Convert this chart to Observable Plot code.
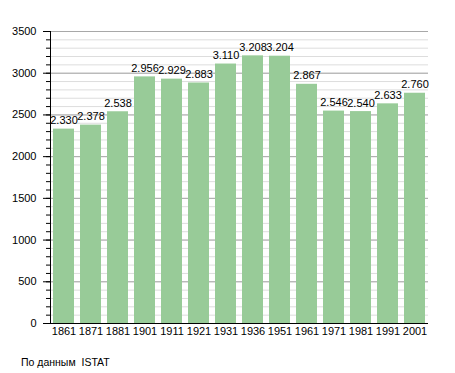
<!DOCTYPE html>
<html>
<head>
<meta charset="utf-8">
<script src="https://cdn.jsdelivr.net/npm/d3@7"></script>
<script src="https://cdn.jsdelivr.net/npm/@observablehq/plot@0.6"></script>
<style>
  body { margin: 0; background: #fff; font-family: "Liberation Sans", Arial, sans-serif; }
  #caption { font-size: 10.5px; padding: 10px 0 0 21px; line-height: 14px; color: #000; }
</style>
</head>
<body>
<div id="chart"></div>
<div id="caption">По данным&nbsp; ISTAT</div>
<script>
const years = ["1861","1871","1881","1901","1911","1921","1931","1936","1951","1961","1971","1981","1991","2001"];
const population = [2330, 2378, 2538, 2956, 2929, 2883, 3110, 3208, 3204, 2867, 2546, 2540, 2633, 2760];
const yMajorTicks = [0, 500, 1000, 1500, 2000, 2500, 3000, 3500];

const data = years.map((year, i) => ({year, pop: population[i]}));
const fmt = d3.formatLocale({decimal: ",", thousands: ".", grouping: [3], currency: ["", ""]}).format(",d");

const plot = Plot.plot({
  width: 455,
  height: 345,
  marginLeft: 50,
  marginRight: 27,
  marginTop: 31,
  marginBottom: 22,
  style: {fontSize: "11px", fontFamily: "Liberation Sans, Arial, sans-serif", color: "#000", background: "#fff"},
  x: {domain: years, paddingInner: 0.24, paddingOuter: 0.06, label: null},
  y: {domain: [0, 3500], label: null},
  marks: [
    Plot.gridY({interval: 100, stroke: "#dddddd", strokeOpacity: 1}),
    Plot.gridY(yMajorTicks, {stroke: "#a8a8a8", strokeOpacity: 1}),
    Plot.barY(data, {x: "year", y: "pop", fill: "#98cb98"}),
    Plot.text(data, {x: "year", y: "pop", text: d => fmt(d.pop), lineAnchor: "bottom", dy: -5, fill: "#000"}),
    Plot.axisY({interval: 100, tickSize: 4, text: null, stroke: "#000"}),
    Plot.axisY(yMajorTicks, {tickSize: 7, tickPadding: 7, tickFormat: d => String(d), stroke: "#000"}),
    Plot.axisX({tickSize: 0, tickPadding: 4}),
    Plot.ruleY([0], {stroke: "#000"}),
    Plot.frame({anchor: "left", stroke: "#000"})
  ]
});
document.getElementById("chart").appendChild(plot);
</script>
</body>
</html>
